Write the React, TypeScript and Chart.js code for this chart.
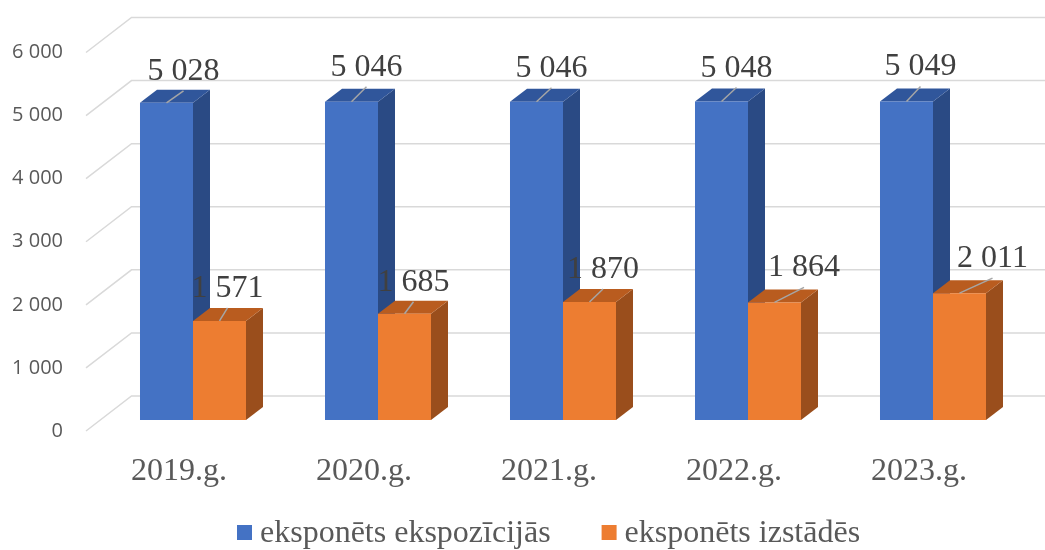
import React, { useEffect, useRef } from 'react';
import { Chart, registerables } from 'chart.js';

Chart.register(...registerables);

// ---- data ----
const categories = ['2019.g.', '2020.g.', '2021.g.', '2022.g.', '2023.g.'];
const seriesNames = ['eksponēts ekspozīcijās', 'eksponēts izstādēs'];
const exposition = [5028, 5046, 5046, 5048, 5049];
const exhibitions = [1571, 1685, 1870, 1864, 2011];
const yMin = 0;
const yMax = 6000;
const yStep = 1000;

// ---- style ----
const FRONT = ['#4472C4', '#ED7D31'];
const TOP = ['#30569B', '#B95C1F'];
const SIDE = ['#2A4A84', '#9A4E1C'];
const BAR_DX = 17;
const BAR_DY = -13;
const FLOOR_DX = -14.5;
const FLOOR_DY = 11;
const WALL_DX = 31;
const WALL_DY = -24;
// label offsets (relative to top-front centre of each bar)
const LABEL_OX = [
  [17, 15, 15, 15, 14],
  [8, 9, 13.5, 29.5, 33],
];
const LABEL_OY = [
  [-23, -26, -25, -25, -26],
  [-24, -23, -24, -26, -26],
];

const fmt = (v: number) => String(v).replace(/\B(?=(\d{3})+(?!\d))/g, ' ');
const SERIF = '"Liberation Serif", "Times New Roman", serif';
const SANS = '"Open Sans", "Liberation Sans", sans-serif';

const threeD = {
  id: 'threeD',
  beforeDatasetsDraw(chart: any) {
    const { ctx, chartArea } = chart;
    const ys = chart.scales.y;
    ctx.save();
    ctx.strokeStyle = '#D9D9D9';
    ctx.lineWidth = 1.5;
    ys.ticks.forEach((t: any) => {
      const py = ys.getPixelForValue(t.value);
      ctx.beginPath();
      ctx.moveTo(chartArea.left + FLOOR_DX, py + FLOOR_DY);
      ctx.lineTo(chartArea.left + WALL_DX, py + WALL_DY);
      ctx.lineTo(chart.width, py + WALL_DY);
      ctx.stroke();
    });
    chart.data.datasets.forEach((_ds: any, i: number) => {
      const meta = chart.getDatasetMeta(i);
      meta.data.forEach((bar: any) => {
        const { x, y: top, base, width } = bar.getProps(['x', 'y', 'base', 'width'], true);
        const l = x - width / 2;
        const r = x + width / 2;
        ctx.fillStyle = SIDE[i];
        ctx.beginPath();
        ctx.moveTo(r, top);
        ctx.lineTo(r + BAR_DX, top + BAR_DY);
        ctx.lineTo(r + BAR_DX, base + BAR_DY);
        ctx.lineTo(r, base);
        ctx.closePath();
        ctx.fill();
        ctx.fillStyle = TOP[i];
        ctx.beginPath();
        ctx.moveTo(l, top);
        ctx.lineTo(r, top);
        ctx.lineTo(r + BAR_DX, top + BAR_DY);
        ctx.lineTo(l + BAR_DX, top + BAR_DY);
        ctx.closePath();
        ctx.fill();
      });
    });
    ctx.restore();
  },
  afterDatasetsDraw(chart: any) {
    const { ctx } = chart;
    ctx.save();
    chart.data.datasets.forEach((ds: any, i: number) => {
      const meta = chart.getDatasetMeta(i);
      meta.data.forEach((bar: any, j: number) => {
        const { x, y: top } = bar.getProps(['x', 'y'], true);
        const lx = x + LABEL_OX[i][j];
        const ly = top + LABEL_OY[i][j];
        ctx.strokeStyle = '#A6A6A6';
        ctx.lineWidth = 1.5;
        ctx.beginPath();
        ctx.moveTo(x, top);
        ctx.lineTo(lx, ly + 11);
        ctx.stroke();
        ctx.fillStyle = '#404040';
        ctx.font = `32px ${SERIF}`;
        ctx.textAlign = 'center';
        ctx.textBaseline = 'alphabetic';
        ctx.fillText(fmt(ds.data[j]), lx, ly);
      });
    });
    ctx.restore();
  },
  afterDraw(chart: any) {
    const { ctx } = chart;
    ctx.save();
    ctx.font = `32px ${SERIF}`;
    ctx.textAlign = 'left';
    ctx.textBaseline = 'alphabetic';
    let x = 237;
    chart.data.datasets.forEach((ds: any, i: number) => {
      ctx.fillStyle = FRONT[i];
      ctx.fillRect(x, 525, 15, 15);
      x += 15 + 8;
      ctx.fillStyle = '#595959';
      ctx.fillText(ds.label, x, 542);
      x += ctx.measureText(ds.label).width + 51;
    });
    ctx.restore();
  },
};

export default function App() {
  const ref = useRef<HTMLCanvasElement>(null);
  useEffect(() => {
    if (!ref.current) return;
    const chart = new Chart(ref.current, {
      type: 'bar',
      data: {
        labels: categories,
        datasets: [
          { label: seriesNames[0], data: exposition, backgroundColor: FRONT[0], borderWidth: 0 },
          { label: seriesNames[1], data: exhibitions, backgroundColor: FRONT[1], borderWidth: 0 },
        ],
      },
      options: {
        animation: false,
        responsive: false,
        devicePixelRatio: 1,
        layout: { padding: { top: 28.4, right: 19.5, left: 0, bottom: 0 } },
        datasets: { bar: { barPercentage: 1, categoryPercentage: 0.573 } },
        plugins: { legend: { display: false }, tooltip: { enabled: false } },
        scales: {
          x: {
            grid: { display: false },
            border: { display: false },
            ticks: {
              padding: 24,
              labelOffset: -14,
              color: '#595959',
              font: { family: SERIF, size: 32 },
            },
            afterFit: (s: any) => { s.height = 130; },
          },
          y: {
            min: yMin,
            max: yMax,
            grid: { display: false },
            border: { display: false },
            ticks: {
              stepSize: yStep,
              padding: 29.5,
              labelOffset: 11,
              color: '#595959',
              font: { family: SANS, size: 20 },
              callback: (v: any) => fmt(Number(v)),
            },
            afterFit: (s: any) => { s.width = 100.5; },
          },
        },
      },
      plugins: [threeD],
    });
    return () => chart.destroy();
  }, []);
  return (
    <div style={{ position: 'fixed', left: 0, top: 0, width: 1045, height: 550, background: '#fff' }}>
      <canvas ref={ref} width={1045} height={550} />
    </div>
  );
}
